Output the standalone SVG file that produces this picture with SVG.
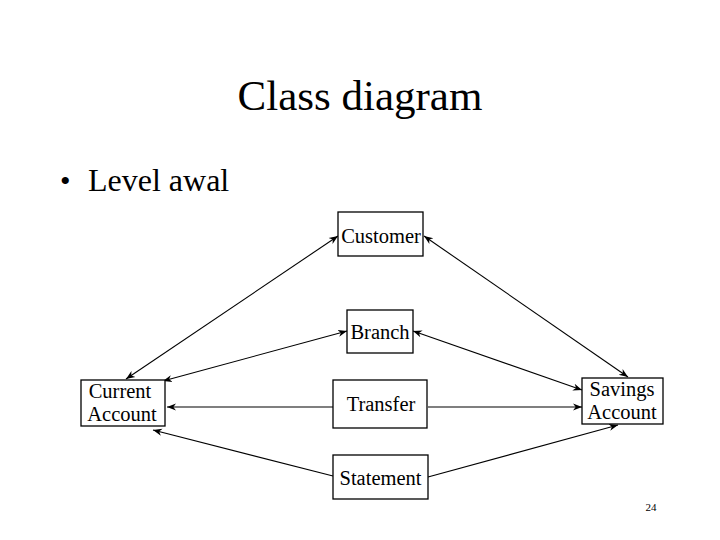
<svg xmlns="http://www.w3.org/2000/svg" width="720" height="540" viewBox="0 0 720 540">
<defs>
<style>
.t{font-family:"Liberation Serif","Times New Roman",serif;fill:#000}
.box{fill:#fff;stroke:#000;stroke-width:1.3}
.c{stroke:#000;stroke-width:1.1;fill:none}
.lbl{font-family:"Liberation Serif","Times New Roman",serif;font-size:20.5px;fill:#000;text-anchor:middle}
</style>
<marker id="ah" viewBox="0 0 10 10" refX="10" refY="5" markerWidth="9" markerHeight="9" markerUnits="userSpaceOnUse" orient="auto-start-reverse">
<path d="M0,1 L10,5 L0,9 L3,5 Z" fill="#000"/>
</marker>
</defs>
<rect width="720" height="540" fill="#fff"/>
<text class="t" x="360" y="110" font-size="43" text-anchor="middle">Class diagram</text>
<text class="t" x="60" y="191" font-size="30">•</text>
<text class="t" x="88" y="191" font-size="32">Level awal</text>
<g id="connectors">
<line class="c" x1="126" y1="379" x2="338" y2="236" marker-start="url(#ah)" marker-end="url(#ah)"/>
<line class="c" x1="163" y1="381" x2="347" y2="331" marker-start="url(#ah)" marker-end="url(#ah)"/>
<line class="c" x1="333" y1="407" x2="167" y2="407" marker-end="url(#ah)"/>
<line class="c" x1="333" y1="476" x2="153" y2="430" marker-end="url(#ah)"/>
<line class="c" x1="424" y1="236" x2="628" y2="377" marker-start="url(#ah)" marker-end="url(#ah)"/>
<line class="c" x1="413" y1="331" x2="582" y2="390" marker-start="url(#ah)" marker-end="url(#ah)"/>
<line class="c" x1="428" y1="407" x2="582" y2="407" marker-end="url(#ah)"/>
<line class="c" x1="428" y1="477" x2="618" y2="425" marker-end="url(#ah)"/>
</g>
<g id="customer">
<rect class="box" x="338" y="212" width="85" height="44"/>
<text class="lbl" x="381" y="243">Customer</text>
</g>
<g id="branch">
<rect class="box" x="347" y="310" width="66" height="43"/>
<text class="lbl" x="380" y="339">Branch</text>
</g>
<g id="current-account">
<rect class="box" x="81" y="380" width="84" height="46"/>
<text class="lbl" x="120" y="398">Current</text>
<text class="lbl" x="122" y="421">Account</text>
</g>
<g id="transfer">
<rect class="box" x="333" y="380" width="94" height="48"/>
<text class="lbl" x="381" y="411">Transfer</text>
</g>
<g id="savings-account">
<rect class="box" x="582" y="378" width="81" height="46"/>
<text class="lbl" x="622" y="396">Savings</text>
<text class="lbl" x="622" y="419">Account</text>
</g>
<g id="statement">
<rect class="box" x="333" y="455" width="95" height="44"/>
<text class="lbl" x="380.5" y="485">Statement</text>
</g>
<text class="t" x="651" y="511" font-size="11" fill="#555" text-anchor="middle">24</text>
</svg>
